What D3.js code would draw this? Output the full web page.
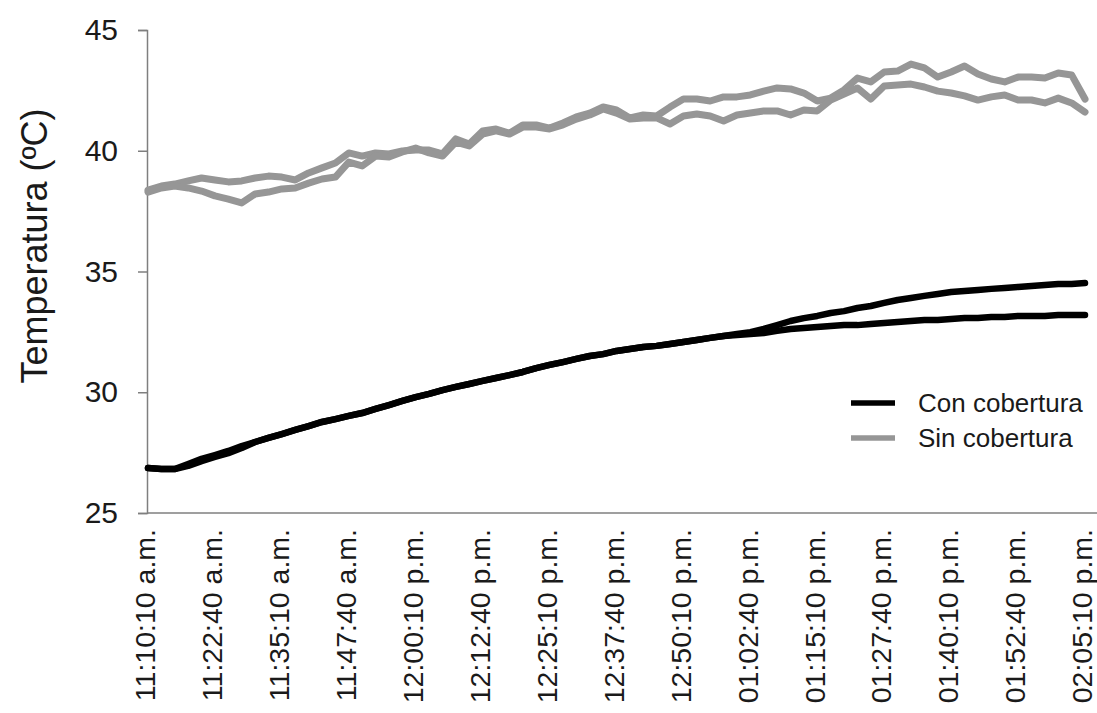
<!DOCTYPE html>
<html>
<head>
<meta charset="utf-8">
<script src="https://cdn.jsdelivr.net/npm/d3@7"></script>
<style>
  body { margin: 0; background: #fff; }
  svg { display: block; }
  text { font-family: "Liberation Sans", Arial, sans-serif; fill: #1a1a1a; }
</style>
</head>
<body>
<svg id="chart" width="1097" height="713"></svg>
<script>
// Logger readings: one sample every 150 s starting at 11:10:10
const startTime = "11:10:10";
const stepSeconds = 150;

// Temperature (°C) under cover, two sensors
const conCobertura1 = [
  26.86, 26.82, 26.82, 27.03, 27.24, 27.40, 27.57, 27.77, 27.94, 28.11,
  28.27, 28.44, 28.60, 28.77, 28.89, 29.02, 29.14, 29.31, 29.47, 29.64,
  29.80, 29.93, 30.09, 30.22, 30.34, 30.47, 30.59, 30.71, 30.84, 31.00,
  31.13, 31.25, 31.38, 31.50, 31.58, 31.71, 31.79, 31.87, 31.92, 32.00,
  32.08, 32.16, 32.25, 32.33, 32.41, 32.49, 32.62, 32.78, 32.95, 33.07,
  33.16, 33.28, 33.36, 33.49, 33.57, 33.70, 33.82, 33.90, 33.99, 34.07,
  34.15, 34.19, 34.23, 34.28, 34.32, 34.36, 34.40, 34.44, 34.48, 34.48,
  34.52
];
const conCobertura2 = [
  26.86, 26.82, 26.82, 26.95, 27.15, 27.32, 27.48, 27.69, 27.94, 28.11,
  28.27, 28.44, 28.60, 28.77, 28.89, 29.02, 29.14, 29.31, 29.47, 29.64,
  29.80, 29.93, 30.09, 30.22, 30.34, 30.47, 30.59, 30.71, 30.84, 31.00,
  31.13, 31.25, 31.38, 31.50, 31.58, 31.71, 31.79, 31.87, 31.92, 32.00,
  32.08, 32.16, 32.25, 32.33, 32.37, 32.41, 32.45, 32.54, 32.62, 32.66,
  32.70, 32.74, 32.78, 32.78, 32.83, 32.87, 32.91, 32.95, 32.99, 32.99,
  33.03, 33.07, 33.07, 33.12, 33.12, 33.16, 33.16, 33.16, 33.20, 33.20,
  33.20
];

// Temperature (°C) without cover, two sensors
const sinCobertura1 = [
  38.37, 38.54, 38.62, 38.75, 38.87, 38.79, 38.71, 38.75, 38.87, 38.95,
  38.91, 38.79, 39.08, 39.29, 39.49, 39.91, 39.78, 39.91, 39.87, 39.99,
  40.03, 40.03, 39.87, 40.49, 40.28, 40.82, 40.90, 40.73, 41.07, 41.07,
  40.94, 41.15, 41.40, 41.56, 41.81, 41.69, 41.36, 41.48, 41.44, 41.81,
  42.14, 42.14, 42.06, 42.23, 42.23, 42.31, 42.47, 42.60, 42.56, 42.39,
  42.06, 42.18, 42.52, 43.01, 42.85, 43.26, 43.30, 43.59, 43.43, 43.05,
  43.26, 43.51, 43.18, 42.97, 42.85, 43.05, 43.05, 43.01, 43.22, 43.14,
  42.14
];
const sinCobertura2 = [
  38.29, 38.46, 38.54, 38.46, 38.33, 38.13, 38.00, 37.84, 38.21, 38.29,
  38.42, 38.46, 38.66, 38.83, 38.91, 39.53, 39.37, 39.78, 39.74, 39.95,
  40.11, 39.91, 39.78, 40.36, 40.20, 40.69, 40.82, 40.69, 40.98, 40.98,
  40.90, 41.07, 41.31, 41.48, 41.73, 41.56, 41.31, 41.36, 41.36, 41.11,
  41.44, 41.52, 41.44, 41.23, 41.48, 41.56, 41.65, 41.65, 41.48, 41.69,
  41.65, 42.10, 42.35, 42.60, 42.14, 42.68, 42.72, 42.76, 42.64, 42.47,
  42.39, 42.27, 42.10, 42.23, 42.31, 42.10, 42.10, 41.98, 42.18, 41.98,
  41.60
];

const yTicks = [25, 30, 35, 40, 45];
const xTickLabels = [
  "11:10:10 a.m.", "11:22:40 a.m.", "11:35:10 a.m.", "11:47:40 a.m.",
  "12:00:10 p.m.", "12:12:40 p.m.", "12:25:10 p.m.", "12:37:40 p.m.",
  "12:50:10 p.m.", "01:02:40 p.m.", "01:15:10 p.m.", "01:27:40 p.m.",
  "01:40:10 p.m.", "01:52:40 p.m.", "02:05:10 p.m."
];
const legendNames = ["Con cobertura", "Sin cobertura"];
const yTitle = "Temperatura (ºC)";

const colorCon = "#000000";
const colorSin = "#969696";

// "hh:mm:ss" plus optional a.m./p.m. -> Date on a fixed day
function parseClock(str) {
  const [clock, suffix] = str.split(" ");
  let [h, m, s] = clock.split(":").map(Number);
  if (suffix === "p.m." && h < 12) h += 12;
  return new Date(2000, 0, 1, h, m, s);
}

const t0 = parseClock(startTime);
const timeAt = i => new Date(t0.getTime() + i * stepSeconds * 1000);

const svg = d3.select("#chart");
svg.append("rect").attr("width", 1097).attr("height", 713).attr("fill", "#fff");

const plot = { left: 147, right: 1085, top: 30, bottom: 513 };

const x = d3.scaleTime()
  .domain([t0, timeAt(conCobertura1.length - 1)])
  .range([plot.left + 1, plot.right]);
const y = d3.scaleLinear()
  .domain([25, 45])
  .range([plot.bottom, plot.top]);

// Y axis
const yAxis = d3.axisLeft(y).tickValues(yTicks).tickSize(9).tickPadding(20).tickFormat(d3.format("d"));
const gy = svg.append("g").attr("transform", `translate(${plot.left},0)`).call(yAxis);
gy.select(".domain").attr("stroke", "#7f7f7f").attr("stroke-width", 1.5);
gy.selectAll(".tick line").attr("stroke", "#7f7f7f").attr("stroke-width", 1.5);
gy.selectAll(".tick text")
  .attr("font-size", 30)
  .attr("fill", "#1a1a1a")
  .attr("font-family", "'Liberation Sans', Arial, sans-serif");

// X axis: baseline plus rotated time labels
const gx = svg.append("g");
gx.append("line")
  .attr("x1", plot.left).attr("x2", 1097)
  .attr("y1", plot.bottom).attr("y2", plot.bottom)
  .attr("stroke", "#7f7f7f").attr("stroke-width", 1.5);
gx.selectAll("text.xlab")
  .data(xTickLabels)
  .join("text")
  .attr("class", "xlab")
  .attr("transform", d => `translate(${x(parseClock(d)) - 3},529) rotate(-90)`)
  .attr("text-anchor", "end")
  .attr("dy", "0.36em")
  .attr("font-size", 28.5)
  .text(d => d);

// Y title
svg.append("text")
  .attr("transform", "translate(34,246) rotate(-90)")
  .attr("text-anchor", "middle")
  .attr("dy", "0.36em")
  .attr("font-size", 36)
  .text(yTitle);

// Series lines
const line = d3.line()
  .x((d, i) => x(timeAt(i)))
  .y(d => y(d));

const series = [
  { values: sinCobertura1, color: colorSin, width: 7 },
  { values: sinCobertura2, color: colorSin, width: 7 },
  { values: conCobertura2, color: colorCon, width: 6.5 },
  { values: conCobertura1, color: colorCon, width: 6.5 }
];

svg.append("g")
  .selectAll("path")
  .data(series)
  .join("path")
  .attr("d", d => line(d.values))
  .attr("fill", "none")
  .attr("stroke", d => d.color)
  .attr("stroke-width", d => d.width)
  .attr("stroke-linejoin", "round")
  .attr("stroke-linecap", "round");

// Legend
const legend = svg.append("g").attr("transform", "translate(851,403)");
const legendColors = [colorCon, colorSin];
legendNames.forEach((name, i) => {
  const row = legend.append("g").attr("transform", `translate(0,${i * 35})`);
  row.append("line")
    .attr("x1", 0).attr("x2", 44)
    .attr("y1", 0).attr("y2", 0)
    .attr("stroke", legendColors[i])
    .attr("stroke-width", 5.5);
  row.append("text")
    .attr("x", 67)
    .attr("dy", "0.36em")
    .attr("font-size", 26)
    .text(name);
});
</script>
</body>
</html>
